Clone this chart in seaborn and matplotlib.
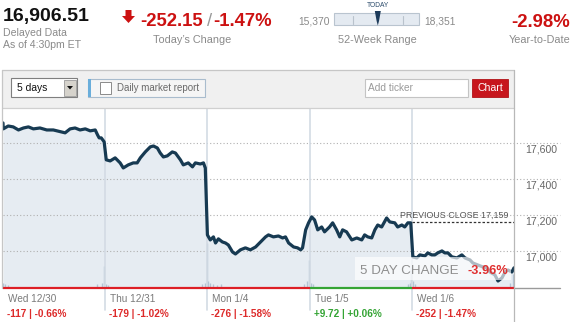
import numpy as np
import pandas as pd
import matplotlib
matplotlib.use("Agg")
import matplotlib.pyplot as plt
import seaborn as sns
from matplotlib.patches import Rectangle, Polygon
from matplotlib import transforms as mtrans

# ---------------- data ----------------
last_price = 16906.51
today_change = "-252.15"
today_pct = "-1.47%"
ytd_pct = "-2.98%"
week52_low = 15370
week52_high = 18351
prev_close = 17159
five_day_change = "-3.96%"

days = ["Wed 12/30", "Thu 12/31", "Mon 1/4", "Tue 1/5", "Wed 1/6"]
day_changes = ["-117 | -0.66%", "-179 | -1.02%", "-276 | -1.58%", "+9.72 | +0.06%", "-252 | -1.47%"]
day_up = [False, False, False, True, False]

y_ticks = [17000, 17200, 17400, 17600]
y_tick_labels = ["17,000", "17,200", "17,400", "17,600"]

# minutes after the open (0..390) and index level, one pair of lists per session
d1_min = [0, 1, 20, 39, 59, 78, 97, 116, 141, 167, 192, 224, 237, 256, 275, 294, 314, 333, 352, 361, 367, 375, 386]
d1_val = [17711, 17678, 17694, 17689, 17672, 17683, 17689, 17678, 17683, 17672, 17672, 17661, 17656, 17678, 17683,
          17672, 17678, 17667, 17672, 17644, 17628, 17628, 17606]
d2_min = [4, 19, 38, 57, 69, 88, 107, 122, 134, 153, 172, 184, 199, 210, 222, 237, 256, 268, 287, 298, 317, 333, 344, 363, 375, 382]
d2_val = [17506, 17500, 17517, 17489, 17461, 17478, 17489, 17489, 17517, 17550, 17578, 17583, 17572, 17544, 17522,
          17528, 17550, 17544, 17506, 17478, 17489, 17467, 17489, 17483, 17489, 17461]
d3_min = [0, 11, 23, 31, 42, 57, 69, 80, 96, 107, 126, 145, 164, 184, 203, 222, 233, 252, 271, 287, 298, 310, 329, 344, 356, 363, 375, 386]
d3_val = [17089, 17061, 17078, 17044, 17067, 17050, 17044, 17033, 16994, 16983, 17006, 17017, 17006, 17022, 17050,
          17078, 17089, 17078, 17083, 17072, 17078, 17044, 17022, 17017, 17006, 17017, 17117, 17156]
d4_min = [8, 19, 31, 46, 57, 76, 88, 103, 115, 126, 141, 161, 180, 199, 210, 222, 237, 249, 260, 275, 294, 306, 325, 336, 352, 363, 375, 386]
d4_val = [17189, 17172, 17117, 17133, 17106, 17133, 17156, 17117, 17078, 17117, 17106, 17061, 17072, 17061, 17089,
          17078, 17072, 17117, 17144, 17133, 17183, 17161, 17156, 17133, 17144, 17133, 17156, 17156]
d5_min = [4, 19, 31, 50, 61, 76, 88, 99, 115, 126, 138, 153, 172, 191, 203, 222, 233, 252, 271, 287, 298, 317, 329, 344, 356, 367, 382, 390]
d5_val = [16967, 16961, 16978, 16972, 16989, 16978, 16978, 16989, 17000, 16989, 16989, 16967, 16961, 16978, 16961,
          16950, 16933, 16922, 16911, 16906, 16883, 16867, 16833, 16850, 16883, 16894, 16883, 16906]

# volume spikes (minute of the 5-day window, relative volume)
vol_min = [1, 8, 18, 360, 378, 385, 392, 400, 760, 772, 777, 782, 790, 800, 815, 830,
           1150, 1160, 1168, 1174, 1182, 1545, 1552, 1558, 1564, 1572, 1935, 1946]
vol_val = [3, 2, 1.5, 2, 3, 12, 2.5, 1.5, 2, 3, 25, 4, 3, 2, 1.5, 2,
           2, 4, 15.5, 3, 2, 2, 3, 11, 4, 2, 3, 8]

SESSION = 390
sessions = [(d1_min, d1_val), (d2_min, d2_val), (d3_min, d3_val), (d4_min, d4_val), (d5_min, d5_val)]
rows = []
for i, (mins, vals) in enumerate(sessions):
    for m, v in zip(mins, vals):
        rows.append({"t": i * SESSION + m, "price": v, "day": days[i]})
df = pd.DataFrame(rows)

# ---------------- style ----------------
sns.set_style("white")
plt.rcParams["font.family"] = ["Liberation Sans", "DejaVu Sans"]

RED = "#cc1111"
RED2 = "#dd2a2a"
GREEN = "#34a434"
GRAY_TXT = "#8a8a8a"
LINE = "#173a52"
FILL = "#e6ecf2"

W, H = 575, 322
fig = plt.figure(figsize=(W / 100, H / 100), dpi=100)
fig.patch.set_facecolor("white")

# plot box in pixel terms
px_l, px_r, px_t, px_b = 3, 514, 108, 288
ax = fig.add_axes([px_l / W, 1 - px_b / H, (px_r - px_l) / W, (px_b - px_t) / H])
ax.set_facecolor("white")
ymin, ymax = 16794, 17794
ax.set_xlim(0, 5 * SESSION)
ax.set_ylim(ymin, ymax)
for s in ax.spines.values():
    s.set_visible(False)
ax.set_xticks([])
ax.set_yticks([])

# area + volume
ax.fill_between(df["t"], df["price"], ymin, color=FILL, lw=0, zorder=1)
xt = ax.get_xaxis_transform()
ax.vlines(vol_min, 0, np.array(vol_val) / 100.0, transform=xt, color="#b3c4d4", lw=1.0, zorder=2)

# grid
for yv in y_ticks:
    ax.axhline(yv, xmin=0, xmax=1.09, ls=(0, (1, 2)), color="#b0b0b0", lw=0.8, clip_on=False, zorder=2.5)
for k in range(1, 5):
    ax.axvline(k * SESSION, ymin=-0.122, ymax=1, color="#d3dbe4", lw=1.2, clip_on=False, zorder=2.5)

sns.lineplot(data=df, x="t", y="price", ax=ax, color=LINE, lw=2.3, sort=False, estimator=None,
             legend=False, zorder=3)
ax.set_xlabel("")
ax.set_ylabel("")
ax.set_xlim(0, 5 * SESSION)
ax.set_ylim(ymin, ymax)

# bottom axis (colored per session)
for k in range(5):
    ax.hlines(ymin, k * SESSION, (k + 1) * SESSION, color=GREEN if day_up[k] else "#dd1f26", lw=1.6,
              clip_on=False, zorder=5)
ax.axhline(ymin, xmin=1.0, xmax=1.09, color="#9a9a9a", lw=1.0, clip_on=False, zorder=5)

# previous close
ax.hlines(prev_close, 4 * SESSION, 5 * SESSION, color="#333333", lw=0.9, ls=(0, (2, 1.5)), zorder=4)
ax.text(5 * SESSION, prev_close, f"PREVIOUS CLOSE {prev_close:,}", fontsize=6.4, color="#555555",
        ha="right", va="baseline",
        transform=mtrans.offset_copy(ax.transData, fig=fig, x=-6, y=4, units="dots"), zorder=4)

# y tick labels on the right
yt = mtrans.offset_copy(ax.get_yaxis_transform(), fig=fig, x=0, y=-10, units="dots")
for yv, lab in zip(y_ticks, y_tick_labels):
    ax.text(1.0215, yv, lab, transform=yt, fontsize=7.6, color="#666666", ha="left", va="baseline")

# session labels below
for k in range(5):
    tr1 = mtrans.offset_copy(ax.get_xaxis_transform(), fig=fig, x=5, y=0, units="dots")
    tr2 = mtrans.offset_copy(ax.get_xaxis_transform(), fig=fig, x=4, y=0, units="dots")
    ax.text(k * SESSION, -14 / 180, days[k], transform=tr1, fontsize=7.2, color="#7a7a7a",
            ha="left", va="baseline")
    ax.text(k * SESSION, -29 / 180, day_changes[k], transform=tr2, fontsize=7.2, fontweight="bold",
            color=GREEN if day_up[k] else RED2, ha="left", va="baseline")

# ---------------- overlay in pixel coordinates ----------------
ov = fig.add_axes([0, 0, 1, 1], zorder=10)
ov.set_xlim(0, W)
ov.set_ylim(H, 0)
ov.axis("off")
ov.patch.set_alpha(0)

# header quote
ov.text(3, 21, f"{last_price:,.2f}", fontsize=14, fontweight="bold", color="#111111", va="baseline")
ov.text(3, 35.7, "Delayed Data", fontsize=7.6, color=GRAY_TXT, va="baseline")
ov.text(3, 48, "As of 4:30pm ET", fontsize=7.6, color=GRAY_TXT, va="baseline")

ov.add_patch(Polygon([(125.5, 10), (131.5, 10), (131.5, 16), (135, 16), (128.5, 23), (122, 16), (125.5, 16)],
                     closed=True, color=RED, lw=0))
ov.text(140, 26, today_change, fontsize=13.3, fontweight="bold", color=RED, va="baseline")
ov.text(209.5, 26, "/", fontsize=13.3, color="#999999", va="baseline", ha="center")
ov.text(272, 26, today_pct, fontsize=13.3, fontweight="bold", color=RED, va="baseline", ha="right")
ov.text(192, 42.7, "Today\u2019s Change", fontsize=7.8, color=GRAY_TXT, va="baseline", ha="center")

# 52-week range
ov.text(330, 24, f"{week52_low:,}", fontsize=7.4, color=GRAY_TXT, va="baseline", ha="right")
ov.text(424, 24, f"{week52_high:,}", fontsize=7.4, color=GRAY_TXT, va="baseline", ha="left")
ov.add_patch(Rectangle((334, 13), 85, 12, facecolor="#e4eaf1", edgecolor="#b9c4cf", lw=0.8))
for xx in (353, 403):
    ov.plot([xx, xx], [15.5, 24], color="#b9c2cc", lw=0.8)
mx = 334 + 85 * (last_price - week52_low) / (week52_high - week52_low)
ov.add_patch(Polygon([(mx - 3, 11), (mx + 3, 11), (mx + 1.2, 21), (mx, 25.5), (mx - 1.2, 21)],
                     closed=True, color="#1d3b5a", lw=0))
ov.text(mx + 0.5, 6.7, "TODAY", fontsize=4.8, color="#2a4a6a", ha="center", va="baseline")
ov.text(377, 42.7, "52-Week Range", fontsize=7.8, color=GRAY_TXT, va="baseline", ha="center")

ov.text(570, 26.5, ytd_pct, fontsize=13.3, fontweight="bold", color=RED, va="baseline", ha="right")
ov.text(540, 42.7, "Year-to-Date", fontsize=7.8, color=GRAY_TXT, va="baseline", ha="center")

# chart panel header
ov.add_patch(Rectangle((2, 70), 512, 37.5, facecolor="#f0f0f0", edgecolor="none"))
ov.plot([2, 514], [70, 70], color="#c6c6c6", lw=0.9)
ov.plot([2, 514], [107.5, 107.5], color="#d0d0d0", lw=0.9)
ov.plot([2, 2], [70, 288], color="#c6c6c6", lw=0.9)
ov.plot([514, 514], [70, 322], color="#b8b8b8", lw=0.9)

# dropdown
ov.add_patch(Rectangle((11, 78), 66, 19, facecolor="white", edgecolor="#7f7f7f", lw=0.8))
ov.add_patch(Rectangle((63.5, 79.5), 12.5, 16, facecolor="#d6d3cc", edgecolor="#9a9a9a", lw=0.6))
ov.add_patch(Polygon([(67, 86), (73, 86), (70, 89.5)], closed=True, color="#111111", lw=0))
ov.text(17, 91, "5 days", fontsize=7.4, color="#111111", va="baseline")

# daily market report
ov.add_patch(Rectangle((88, 78.5), 117, 18.5, facecolor="#f5f5f5", edgecolor="#a9bccd", lw=0.8))
ov.add_patch(Rectangle((88, 78.5), 3, 18.5, facecolor="#6aaedb", edgecolor="none"))
ov.add_patch(Rectangle((99.5, 82), 11, 11.5, facecolor="white", edgecolor="#8a8a8a", lw=0.7))
ov.text(117, 91, "Daily market report", fontsize=7.0, color="#6a6a6a", va="baseline")

# ticker input + button
ov.add_patch(Rectangle((365, 79), 103, 17.5, facecolor="white", edgecolor="#c4c4c4", lw=0.8))
ov.text(368.5, 91, "Add ticker", fontsize=7.3, color="#9a9a9a", va="baseline")
ov.add_patch(Rectangle((472, 79), 36, 17.5, facecolor="#c7161d", edgecolor="#b01218", lw=0.6))
ov.text(490, 91, "Chart", fontsize=7.6, color="white", va="baseline", ha="center")

# 5 day change box
ov.add_patch(Rectangle((355, 257), 156, 23, facecolor="white", alpha=0.65, edgecolor="none"))
ov.text(360, 273.5, "5 DAY CHANGE", fontsize=9.6, color="#8e8e8e", va="baseline")
ov.text(508, 273.5, five_day_change, fontsize=9.2, fontweight="bold", color="#e03030", va="baseline", ha="right")

fig.savefig("out.png", dpi=100, facecolor="white")
